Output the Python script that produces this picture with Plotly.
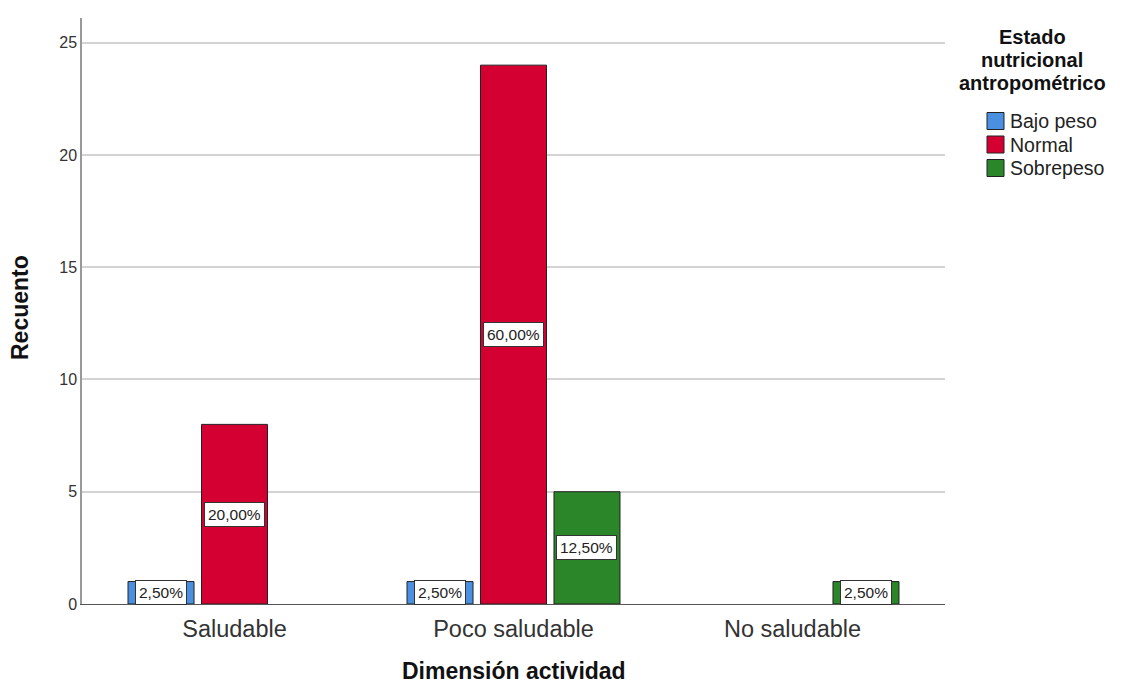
import plotly.graph_objects as go

categories = ["Saludable", "Poco saludable", "No saludable"]
series_names = ["Bajo peso", "Normal", "Sobrepeso"]
bajo_peso = [1, 1, None]
normal = [8, 24, None]
sobrepeso = [None, 5, 1]
pct_bajo = ["2,50%", "2,50%", ""]
pct_normal = ["20,00%", "60,00%", ""]
pct_sobre = ["", "12,50%", "2,50%"]
legend_title_lines = ["Estado", "nutricional", "antropométrico"]

colors = ["#4a8fe0", "#d50032", "#2b8529"]
values = [bajo_peso, normal, sobrepeso]
labels = [pct_bajo, pct_normal, pct_sobre]

slot = 0.2634
width = 0.2366
offsets = [-1, 0, 1]

FONT = "Arial, Liberation Sans, sans-serif"

# pixel geometry of plot area
L, R, T, B = 82, 945, 18, 604
W, H = 1135, 684


def px(x):
    return (x - L) / (R - L)


def py(y):
    return (B - y) / (B - T)


fig = go.Figure()
annotations = []
shapes = []
for name, vals, col, labs, k in zip(series_names, values, colors, labels, offsets):
    fig.add_trace(go.Bar(
        x=categories, y=vals, name=name,
        marker=dict(color=col, line=dict(color="#222222", width=1)),
        width=width, offset=k * slot - width / 2, showlegend=False,
    ))
    for i, (v, t) in enumerate(zip(vals, labs)):
        if v and t:
            annotations.append(dict(
                x=i + k * slot, y=v / 2, xref="x", yref="y", text=t,
                showarrow=False, bgcolor="white", bordercolor="#333333",
                borderwidth=1, borderpad=3,
                font=dict(family=FONT, size=15.5, color="#222222"),
            ))

# legend title
for j, line in enumerate(legend_title_lines):
    annotations.append(dict(
        xref="paper", yref="paper", x=px(1032), y=py(37 + 23 * j),
        xanchor="center", yanchor="middle", text="<b>" + line + "</b>",
        showarrow=False, font=dict(family=FONT, size=20, color="#111111"),
    ))

# legend items
for j, (name, col) in enumerate(zip(series_names, colors)):
    yc = 121 + 23.5 * j
    shapes.append(dict(
        type="rect", xref="paper", yref="paper",
        x0=px(987), x1=px(1004), y0=py(yc - 8.5), y1=py(yc + 8.5),
        fillcolor=col, line=dict(color="#222222", width=1),
    ))
    annotations.append(dict(
        xref="paper", yref="paper", x=px(1008), y=py(yc),
        xanchor="left", yanchor="middle", text=name, showarrow=False,
        font=dict(family=FONT, size=19.5, color="#222222"),
    ))

# axis titles
annotations.append(dict(
    xref="paper", yref="paper", x=px(514), y=py(671),
    xanchor="center", yanchor="middle", text="<b>Dimensión actividad</b>",
    showarrow=False, font=dict(family=FONT, size=23, color="#111111"),
))
annotations.append(dict(
    xref="paper", yref="paper", x=px(20), y=py(308),
    xanchor="center", yanchor="middle", text="<b>Recuento</b>", textangle=-90,
    showarrow=False, font=dict(family=FONT, size=23, color="#111111"),
))

fig.update_layout(
    width=W, height=H,
    margin=dict(l=L, r=W - R, t=T, b=H - B, autoexpand=False),
    plot_bgcolor="white", paper_bgcolor="white",
    barmode="group",
    annotations=annotations,
    shapes=shapes,
    showlegend=False,
    xaxis=dict(
        range=[-0.5466, 2.5466], showgrid=False, automargin=False,
        showline=True, linecolor="#555555", linewidth=1,
        ticks="", ticklabelstandoff=4,
        tickfont=dict(family=FONT, size=23.5, color="#333333"),
        zeroline=False,
    ),
    yaxis=dict(
        range=[0, 26.1], tickvals=[0, 5, 10, 15, 20, 25], automargin=False,
        showgrid=True, gridcolor="#d3d3d3", gridwidth=1.5,
        showline=True, linecolor="#999999", linewidth=1.5,
        ticks="", tickfont=dict(family=FONT, size=16, color="#333333"),
        zeroline=False,
    ),
)

fig.write_html("out.html")
